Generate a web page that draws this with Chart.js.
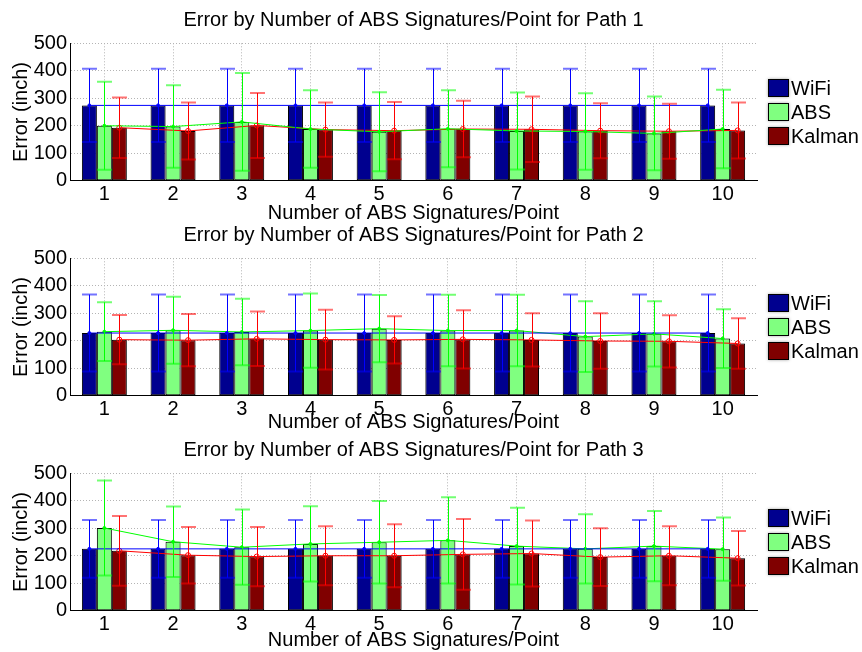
<!DOCTYPE html>
<html>
<head>
<meta charset="utf-8">
<script src="https://cdn.jsdelivr.net/npm/chart.js@4.4.0/dist/chart.umd.min.js"></script>
<style>
  html, body { margin: 0; padding: 0; background: #fff; width: 862px; height: 652px; overflow: hidden; }
  canvas { position: absolute; left: 0; }
</style>
</head>
<body>
<canvas id="path1" width="862" height="228" style="top:0px"></canvas>
<canvas id="path2" width="862" height="222" style="top:215px"></canvas>
<canvas id="path3" width="862" height="225" style="top:430px"></canvas>
<script>
// ---- data (inch) -------------------------------------------------------
const categories = ['1', '2', '3', '4', '5', '6', '7', '8', '9', '10'];
const yTicks = [0, 100, 200, 300, 400, 500];
const seriesNames = ['WiFi', 'ABS', 'Kalman'];

// Path 1: means and standard deviations
const path1WiFi      = [274, 274, 274, 274, 274, 274, 274, 274, 274, 274];
const path1WiFiErr   = [133, 133, 133, 133, 133, 133, 133, 133, 133, 133];
const path1ABS       = [200, 197, 214, 188, 178, 189, 181, 179, 172, 188];
const path1ABSErr    = [160, 150, 178, 141, 144, 140, 140, 139, 134, 143];
const path1Kalman    = [193, 181, 201, 186, 182, 188, 187, 182, 180, 183];
const path1KalmanErr = [110, 104, 118,  99, 104, 103, 119, 100, 100, 102];

// Path 2
const path2WiFi      = [228, 228, 228, 228, 228, 228, 228, 228, 228, 228];
const path2WiFiErr   = [140, 140, 140, 140, 140, 140, 140, 140, 140, 140];
const path2ABS       = [233, 238, 232, 237, 244, 237, 237, 215, 225, 208];
const path2ABSErr    = [107, 122, 121, 135, 122, 130, 130, 129, 119, 107];
const path2Kalman    = [204, 202, 207, 204, 203, 205, 203, 199, 198, 190];
const path2KalmanErr = [ 90,  95,  99, 109,  86, 106,  97, 101,  95,  92];

// Path 3
const path3WiFi      = [225, 225, 225, 225, 225, 225, 225, 225, 225, 225];
const path3WiFiErr   = [105, 105, 105, 105, 105, 105, 105, 105, 105, 105];
const path3ABS       = [301, 251, 231, 243, 249, 256, 235, 225, 235, 224];
const path3ABSErr    = [173, 128, 137, 137, 150, 157, 140, 126, 128, 115];
const path3Kalman    = [218, 202, 197, 200, 200, 205, 208, 195, 200, 191];
const path3KalmanErr = [127, 103, 108, 107, 115, 129, 120, 105, 107,  99];

// ---- styling -------------------------------------------------------------
const FONT = '"Liberation Sans", Arial, Helvetica, sans-serif';
Chart.defaults.font.family = FONT;
Chart.defaults.font.size = 20;
Chart.defaults.color = '#000';

const barColors  = ['#00008f', '#80ff80', '#800000'];
const lineColors = ['#0000ff', '#00ff00', '#ff0000'];
const GROUP = 0.654;                 // fraction of one x unit taken by a bar group
const PLOT_TOP = 43.3;               // chart-area top inside each canvas
const PLOT_BOTTOM = 180.7;           // chart-area bottom inside each canvas
const GRID = '#b4b4b4';

// panel title, centred over the plot area
const panelTitle = {
  id: 'panelTitle',
  afterDraw(chart, args, opts) {
    const { ctx, chartArea } = chart;
    ctx.save();
    ctx.font = '20px ' + FONT;
    ctx.fillStyle = '#000';
    ctx.textAlign = 'center';
    ctx.textBaseline = 'middle';
    ctx.fillText(opts.text, (chartArea.left + chartArea.right) / 2, 20);
    ctx.restore();
  }
};

// error bars with caps, drawn from each line dataset's points
const errorBars = {
  id: 'errorBars',
  afterDatasetsDraw(chart) {
    const { ctx } = chart;
    const yScale = chart.scales.y;
    const barW = chart.getDatasetMeta(0).data[0].width;
    chart.data.datasets.forEach((ds, idx) => {
      if (ds.type !== 'line') return;
      const meta = chart.getDatasetMeta(idx);
      meta.data.forEach((pt, i) => {
        const m = ds.data[i].y, e = ds.errors[i];
        const top = yScale.getPixelForValue(m + e);
        const bot = yScale.getPixelForValue(m - e);
        const px = Math.round(pt.x) + 0.5;
        ctx.save();
        ctx.strokeStyle = ds.borderColor;
        ctx.lineWidth = 1;
        ctx.beginPath();
        ctx.moveTo(px, top);
        ctx.lineTo(px, bot);
        ctx.stroke();
        ctx.globalAlpha = 0.55;
        ctx.lineWidth = 2;
        ctx.beginPath();
        ctx.moveTo(px - barW / 2, top); ctx.lineTo(px + barW / 2, top);
        ctx.moveTo(px - barW / 2, bot); ctx.lineTo(px + barW / 2, bot);
        ctx.stroke();
        ctx.restore();
      });
    });
  }
};

// soft grey halo around the bars
const barHalo = {
  id: 'barHalo',
  beforeDatasetDraw(chart, args) {
    if (chart.data.datasets[args.index].type !== 'bar') return;
    chart.ctx.save();
    chart.ctx.shadowColor = 'rgba(0,0,0,0.35)';
    chart.ctx.shadowBlur = 3;
  },
  afterDatasetDraw(chart, args) {
    if (chart.data.datasets[args.index].type !== 'bar') return;
    chart.ctx.restore();
  }
};

// legend to the right of the plot, centred on it
const sideLegend = {
  id: 'sideLegend',
  afterDraw(chart) {
    const { ctx, chartArea } = chart;
    const items = chart.data.datasets.filter(d => d.type === 'bar');
    const mid = (chartArea.top + chartArea.bottom) / 2;
    const x = chartArea.right + 11;
    ctx.save();
    ctx.font = '20px ' + FONT;
    ctx.textBaseline = 'middle';
    items.forEach((d, k) => {
      const cy = mid + (k - 1) * 24;
      ctx.save();
      ctx.shadowColor = 'rgba(0,0,0,0.35)';
      ctx.shadowBlur = 3;
      ctx.fillStyle = d.backgroundColor;
      ctx.fillRect(x, cy - 9, 21, 18);
      ctx.restore();
      ctx.strokeStyle = '#000';
      ctx.lineWidth = 1;
      ctx.strokeRect(x + 0.5, cy - 8.5, 20, 17);
      ctx.fillStyle = '#000';
      ctx.fillText(d.label, x + 23, cy + 1);
    });
    ctx.restore();
  }
};

function makePanel(canvasId, title, means, errs) {
  const canvas = document.getElementById(canvasId);
  const H = canvas.height;
  const datasets = [];
  means.forEach((vals, k) => {
    datasets.push({
      type: 'bar',
      label: seriesNames[k],
      data: vals.map((v, i) => ({ x: i + 1, y: v })),
      backgroundColor: barColors[k],
      borderColor: '#000',
      borderWidth: 1,
      borderSkipped: false,
      categoryPercentage: GROUP,
      barPercentage: 1.0,
      order: 1
    });
  });
  means.forEach((vals, k) => {
    const off = (k - 1) * GROUP / 3;
    datasets.push({
      type: 'line',
      label: seriesNames[k] + ' mean',
      data: vals.map((v, i) => ({ x: i + 1 + off, y: v })),
      errors: errs[k],
      borderColor: lineColors[k],
      backgroundColor: lineColors[k],
      borderWidth: 1,
      tension: 0,
      pointRadius: k === 2 ? 2.5 : 1.5,
      pointBorderWidth: 1,
      pointBackgroundColor: k === 2 ? 'rgba(0,0,0,0)' : lineColors[k],
      pointBorderColor: lineColors[k],
      order: 0
    });
  });

  return new Chart(canvas, {
    type: 'bar',
    data: { datasets },
    plugins: [barHalo, errorBars, sideLegend, panelTitle],
    options: {
      responsive: false,
      animation: false,
      devicePixelRatio: 1,
      layout: { padding: { left: 0, right: 105, top: PLOT_TOP, bottom: 0 } },
      plugins: {
        legend: { display: false },
        tooltip: { enabled: false },
        title: { display: false },
        panelTitle: { text: title }
      },
      scales: {
        x: {
          type: 'linear',
          min: 0.5,
          max: categories.length + 0.5,
          offset: false,
          afterBuildTicks(scale) { scale.ticks = categories.map((c, i) => ({ value: i + 1 })); },
          grid: { offset: false, color: GRID, lineWidth: 1, drawTicks: false },
          border: { display: true, color: '#000', width: 1, dash: [1, 2] },
          ticks: {
            color: '#000', font: { size: 20 }, padding: 2, maxRotation: 0, autoSkip: false,
            callback: v => categories[Math.round(v) - 1]
          },
          title: {
            display: true,
            text: 'Number of ABS Signatures/Point',
            color: '#000',
            font: { size: 20 },
            padding: { top: 0, bottom: 3 }
          },
          afterFit(scale) { scale.height = H - PLOT_BOTTOM; }
        },
        y: {
          min: yTicks[0],
          max: yTicks[yTicks.length - 1],
          afterBuildTicks(scale) { scale.ticks = yTicks.map(v => ({ value: v })); },
          grid: {
            color: c => (c.tick && c.tick.value === 0 ? 'rgba(0,0,0,0)' : GRID),
            lineWidth: 1,
            drawTicks: false
          },
          border: { display: true, color: '#000', width: 1, dash: [1, 2] },
          ticks: { color: '#000', font: { size: 20 }, padding: 3 },
          title: {
            display: true,
            text: 'Error (inch)',
            color: '#000',
            font: { size: 20 },
            padding: { top: 9, bottom: 0 }
          },
          afterFit(scale) { scale.width = 70; }
        }
      }
    }
  });
}

makePanel('path1', 'Error by Number of ABS Signatures/Point for Path 1',
  [path1WiFi, path1ABS, path1Kalman], [path1WiFiErr, path1ABSErr, path1KalmanErr]);
makePanel('path2', 'Error by Number of ABS Signatures/Point for Path 2',
  [path2WiFi, path2ABS, path2Kalman], [path2WiFiErr, path2ABSErr, path2KalmanErr]);
makePanel('path3', 'Error by Number of ABS Signatures/Point for Path 3',
  [path3WiFi, path3ABS, path3Kalman], [path3WiFiErr, path3ABSErr, path3KalmanErr]);
</script>
</body>
</html>
